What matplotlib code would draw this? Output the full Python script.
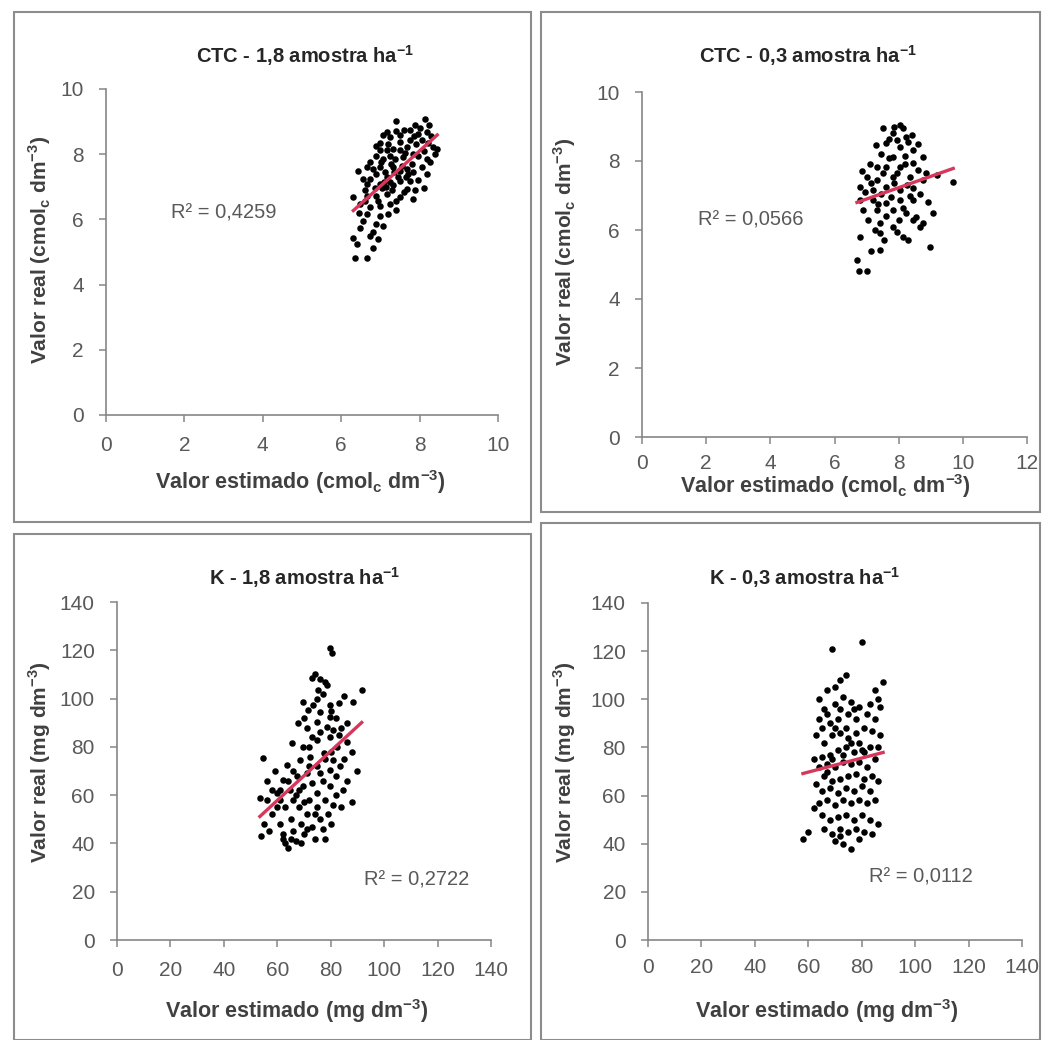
import numpy as np
import matplotlib.pyplot as plt
from matplotlib.patches import Rectangle

plt.rcParams['font.family'] = ['Liberation Sans', 'DejaVu Sans']
plt.rcParams['mathtext.fontset'] = 'custom'
plt.rcParams['mathtext.rm'] = 'Liberation Sans'
plt.rcParams['mathtext.bf'] = 'Liberation Sans:bold'

# --- data (estimado, real) ---
ctc_18 = [
    (7.41, 9.02), (8.14, 9.09), (7.88, 8.89), (7.75, 8.73), (7.16, 8.68), (7.07, 8.58), (7.24, 8.53),
    (7.50, 8.58), (7.97, 8.63), (8.18, 8.68), (7.75, 8.43), (7.50, 8.38), (7.92, 8.32), (6.99, 8.12),
    (7.16, 8.12), (7.33, 8.17), (7.50, 8.12), (7.67, 8.22), (8.35, 8.22), (6.90, 7.96), (6.74, 7.76),
    (7.07, 7.86), (7.24, 7.96), (7.84, 8.02), (8.18, 7.86), (8.27, 7.76), (6.65, 7.60), (6.44, 7.50),
    (6.99, 7.60), (7.33, 7.60), (7.50, 7.50), (7.67, 7.55), (7.84, 7.45), (6.90, 7.40), (6.74, 7.24),
    (7.16, 7.29), (7.50, 7.19), (7.75, 7.19), (6.65, 7.09), (6.99, 7.09), (7.33, 7.04), (7.67, 6.94),
    (6.31, 6.68), (6.65, 6.73), (6.90, 6.73), (7.16, 6.78), (7.50, 6.68), (7.84, 6.63), (6.48, 6.47),
    (6.74, 6.37), (6.99, 6.42), (7.24, 6.47), (7.41, 6.57), (6.65, 6.16), (6.99, 6.11), (7.20, 6.16),
    (6.48, 5.75), (6.90, 5.85), (7.07, 5.80), (6.31, 5.44), (6.74, 5.49), (6.82, 5.13), (6.35, 4.82),
    (6.65, 4.82), (7.02, 7.75), (7.12, 7.45), (7.28, 7.70), (7.38, 7.85), (7.45, 7.30), (7.58, 7.90),
    (7.62, 8.05), (7.70, 7.40), (7.80, 7.70), (7.95, 7.95), (8.05, 8.45), (8.10, 8.10), (8.22, 8.35),
    (8.30, 8.55), (8.40, 8.00), (8.05, 7.60), (7.95, 7.20), (8.12, 6.95), (7.88, 6.90), (7.60, 6.85),
    (7.30, 6.90), (7.05, 6.95), (6.85, 6.95), (6.60, 6.90), (6.55, 7.25), (6.80, 7.55), (7.00, 8.35),
    (7.20, 8.30), (7.40, 8.70), (7.60, 8.75), (7.85, 8.55), (8.00, 8.80), (8.25, 8.90), (7.55, 7.65),
    (7.25, 7.15), (7.15, 7.00), (6.95, 6.55), (7.40, 6.30), (6.60, 6.55), (6.45, 6.20), (6.55, 5.95),
    (6.80, 5.60), (6.40, 5.25), (6.95, 5.40), (7.35, 7.45), (7.65, 7.30), (8.20, 7.40), (8.45, 8.15),
    (7.10, 7.15), (6.90, 8.25),
]

ctc_03 = [
    (8.04, 9.04), (7.83, 8.80), (8.24, 8.70), (7.62, 8.51), (8.04, 8.42), (8.45, 8.32), (7.83, 8.13),
    (7.31, 7.84), (7.62, 7.84), (8.04, 7.84), (8.45, 7.94), (8.76, 8.13), (7.00, 7.55), (7.31, 7.45),
    (7.83, 7.55), (8.35, 7.55), (8.76, 7.45), (6.79, 7.26), (7.20, 7.16), (7.62, 7.26), (8.04, 7.16),
    (8.45, 7.21), (6.79, 6.87), (7.20, 6.87), (7.62, 6.77), (8.04, 6.87), (8.45, 6.87), (6.90, 6.58),
    (7.31, 6.58), (7.83, 6.58), (8.24, 6.48), (8.55, 6.39), (9.08, 6.48), (7.41, 6.20), (7.83, 6.10),
    (8.45, 6.29), (8.76, 6.20), (6.79, 5.81), (7.41, 5.91), (8.14, 5.81), (8.66, 6.10), (8.97, 5.52),
    (7.41, 5.42), (6.70, 5.13), (7.00, 4.80), (6.75, 4.80), (7.50, 8.95), (7.70, 8.65), (7.95, 8.60),
    (8.15, 8.95), (8.30, 8.55), (7.45, 8.20), (7.70, 8.10), (8.20, 8.15), (8.60, 8.50), (7.10, 7.90),
    (7.50, 7.65), (7.95, 7.65), (8.20, 7.90), (8.60, 7.75), (7.15, 7.35), (7.45, 7.05), (7.85, 7.35),
    (8.25, 7.30), (8.65, 7.05), (6.95, 7.10), (7.35, 6.75), (7.75, 6.95), (8.15, 6.65), (8.35, 7.00),
    (7.05, 6.30), (7.60, 6.40), (8.00, 6.30), (8.90, 6.80), (7.25, 6.00), (7.95, 5.95), (8.30, 5.70),
    (7.55, 5.70), (7.15, 5.40), (9.20, 7.60), (9.70, 7.40), (8.85, 7.65), (7.85, 9.00), (8.40, 8.75),
    (7.30, 8.45), (6.85, 7.70),
]

k_18 = [
    (79.7, 120.8), (80.4, 118.8), (72.9, 108.4), (78.5, 105.6), (91.6, 103.5), (75.4, 103.5), (69.8, 98.7),
    (73.5, 97.4), (88.5, 98.7), (79.7, 97.4), (71.6, 95.2), (76.0, 94.6), (79.7, 92.5), (67.9, 89.7),
    (74.8, 90.5), (78.5, 88.4), (54.8, 75.3), (65.4, 81.5), (69.8, 80.1), (74.8, 82.8), (79.7, 84.2),
    (82.2, 80.1), (63.5, 72.6), (68.5, 74.6), (72.3, 76.0), (77.3, 77.4), (81.0, 74.6), (62.3, 66.4),
    (67.3, 67.8), (71.0, 69.1), (76.0, 69.1), (79.7, 70.5), (83.5, 71.9), (59.8, 60.9), (64.8, 62.3),
    (69.8, 63.6), (74.8, 60.9), (79.7, 63.6), (84.7, 62.3), (53.5, 58.9), (56, 58), (58, 52), (55, 48),
    (57, 45), (54, 43), (60, 55), (61, 48), (62, 44), (63, 40), (64, 38), (62, 42), (65, 50), (66, 45),
    (67, 41), (68, 55), (69, 48), (70, 44), (71, 52), (72, 58), (73, 47), (74, 42), (75, 55), (76, 50),
    (77, 46), (78, 58), (79, 52), (80, 48), (81, 56), (82, 60), (84, 55), (88, 57), (66, 58), (68, 62),
    (70, 57), (73, 65), (75, 72), (77, 66), (78, 75), (80, 78), (82, 68), (83, 85), (85, 75), (86, 90),
    (76, 86), (73, 84), (71, 88), (66, 70), (64, 66), (61, 62), (59, 70), (70, 92), (75, 100), (77, 102),
    (74, 110), (76, 108), (78, 107), (80, 95), (82, 92), (84, 88), (86, 82), (88, 78), (90, 70), (86, 66),
    (72, 72), (67, 60), (63, 55), (65, 42), (69, 40), (71, 46), (78, 42), (74, 52), (61, 58), (58, 62),
    (56, 66), (72, 80), (81, 87), (83, 98), (85, 101),
]

k_03 = [
    (69, 121), (80, 124), (74, 110), (72, 108), (70, 105), (67, 104), (64, 100), (66, 96), (70, 98),
    (73, 101), (76, 99), (79, 97), (83, 98), (86, 100), (88, 107), (85, 104), (82, 94), (78, 92), (75, 94),
    (71, 92), (68, 90), (65, 88), (63, 85), (66, 82), (69, 85), (72, 86), (75, 84), (78, 86), (81, 88),
    (84, 87), (87, 85), (86, 80), (83, 80), (80, 79), (77, 78), (74, 80), (71, 79), (68, 77), (65, 76),
    (62, 75), (64, 72), (67, 73), (70, 72), (73, 74), (76, 73), (79, 74), (82, 72), (85, 75), (84, 68),
    (81, 67), (78, 69), (75, 68), (72, 67), (69, 66), (66, 68), (63, 65), (65, 62), (68, 63), (71, 61),
    (74, 63), (77, 62), (80, 64), (83, 62), (86, 66), (85, 58), (82, 57), (79, 58), (76, 57), (73, 58),
    (70, 56), (67, 58), (64, 57), (62, 55), (60, 45), (58, 42), (65, 52), (68, 50), (71, 51), (74, 52),
    (77, 50), (80, 52), (83, 50), (86, 48), (84, 44), (81, 45), (78, 46), (75, 45), (72, 46), (69, 44),
    (66, 46), (70, 41), (73, 40), (76, 38), (79, 42), (72, 43), (67, 70), (69, 75), (73, 77), (76, 82),
    (79, 82), (81, 78), (74, 88), (70, 88), (77, 96), (72, 96), (67, 94), (64, 92), (87, 97), (85, 92),
]

titles = ['CTC - 1,8 amostra ha$^{\\mathbf{-1}}$', 'CTC - 0,3 amostra ha$^{\\mathbf{-1}}$',
          'K - 1,8 amostra ha$^{\\mathbf{-1}}$', 'K - 0,3 amostra ha$^{\\mathbf{-1}}$']
r2_texts = ['R² = 0,4259', 'R² = 0,0566', 'R² = 0,2722', 'R² = 0,0112']
r2_pos = [(3.0, 6.2), (3.4, 6.3), (112, 25), (102, 26)]
xlabel_ctc = 'Valor estimado (cmol$_{\\mathbf{c}}$ dm$^{\\mathbf{-3}}$)'
ylabel_ctc = 'Valor real (cmol$_{\\mathbf{c}}$ dm$^{\\mathbf{-3}}$)'
xlabel_k = 'Valor estimado (mg dm$^{\\mathbf{-3}}$)'
ylabel_k = 'Valor real (mg dm$^{\\mathbf{-3}}$)'

W, H = 1043, 1040
def fx(px):
    return px / W
def fy(py):
    return 1 - py / H

# pixel layout of each panel: axes box, outer frame, text anchors
panels = [
    dict(data=ctc_18, ax=(106, 89, 498, 415), box=(14, 12, 531, 522), xlim=10, xstep=2, ylim=10, ystep=2,
         xlabel=xlabel_ctc, ylabel=ylabel_ctc, title_xy=(305, 56), xl_xy=(300, 482), yl_xy=(40, 250),
         xpad=10),
    dict(data=ctc_03, ax=(642, 92, 1027, 437), box=(541, 12, 1040, 512), xlim=12, xstep=2, ylim=10, ystep=2,
         xlabel=xlabel_ctc, ylabel=ylabel_ctc, title_xy=(808, 56), xl_xy=(825, 486), yl_xy=(565, 252),
         xpad=7),
    dict(data=k_18, ax=(117, 602, 491, 940), box=(14, 534, 531, 1040), xlim=140, xstep=20, ylim=140, ystep=20,
         xlabel=xlabel_k, ylabel=ylabel_k, title_xy=(305, 578), xl_xy=(297, 1011), yl_xy=(40, 762),
         xpad=10),
    dict(data=k_03, ax=(648, 603, 1022, 940), box=(541, 523, 1040, 1040), xlim=140, xstep=20, ylim=140, ystep=20,
         xlabel=xlabel_k, ylabel=ylabel_k, title_xy=(805, 578), xl_xy=(827, 1011), yl_xy=(565, 762),
         xpad=8),
]

fig = plt.figure(figsize=(W / 100, H / 100), dpi=100)

for i, p in enumerate(panels):
    x0, y0, x1, y1 = p['box']
    fig.add_artist(Rectangle((fx(x0), fy(y1)), fx(x1) - fx(x0), fy(y0) - fy(y1),
                             transform=fig.transFigure, fill=False, edgecolor='#8c8c8c', lw=1.5))
    l, t, r, b = p['ax']
    ax = fig.add_axes([fx(l), fy(b), fx(r) - fx(l), fy(t) - fy(b)])
    pts = np.array(p['data'], dtype=float)
    x, y = pts[:, 0], pts[:, 1]
    ax.scatter(x, y, s=22, c='black', linewidths=0, zorder=3)
    m, c = np.polyfit(x, y, 1)
    xs = np.array([x.min(), x.max()])
    ax.plot(xs, m * xs + c, color='#d8375c', lw=2.4, zorder=4)
    ax.text(r2_pos[i][0], r2_pos[i][1], r2_texts[i], ha='center', va='center',
            fontsize=14.5, color='#595959')

    ax.set_xlim(0, p['xlim'])
    ax.set_ylim(0, p['ylim'])
    ax.set_xticks(np.arange(0, p['xlim'] + 0.1, p['xstep']))
    ax.set_yticks(np.arange(0, p['ylim'] + 0.1, p['ystep']))
    for s in ['top', 'right']:
        ax.spines[s].set_visible(False)
    for s in ['left', 'bottom']:
        ax.spines[s].set_color('#868686')
        ax.spines[s].set_linewidth(1.2)
    ax.tick_params(direction='out', length=5, width=1.1, color='#868686',
                   labelsize=15, labelcolor='#595959')
    ax.tick_params(axis='x', pad=p['xpad'])
    ax.tick_params(axis='y', pad=11)
    ax.patch.set_alpha(0)

    fig.text(fx(p['title_xy'][0]), fy(p['title_xy'][1]), titles[i], ha='center', va='center',
             fontsize=14.5, fontweight='bold', color='#262626')
    fig.text(fx(p['xl_xy'][0]), fy(p['xl_xy'][1]), p['xlabel'], ha='center', va='center',
             fontsize=15.5, fontweight='bold', color='#404040')
    fig.text(fx(p['yl_xy'][0]), fy(p['yl_xy'][1]), p['ylabel'], ha='center', va='center', rotation=90,
             fontsize=15, fontweight='bold', color='#404040')

fig.savefig('out.png', dpi=100)
